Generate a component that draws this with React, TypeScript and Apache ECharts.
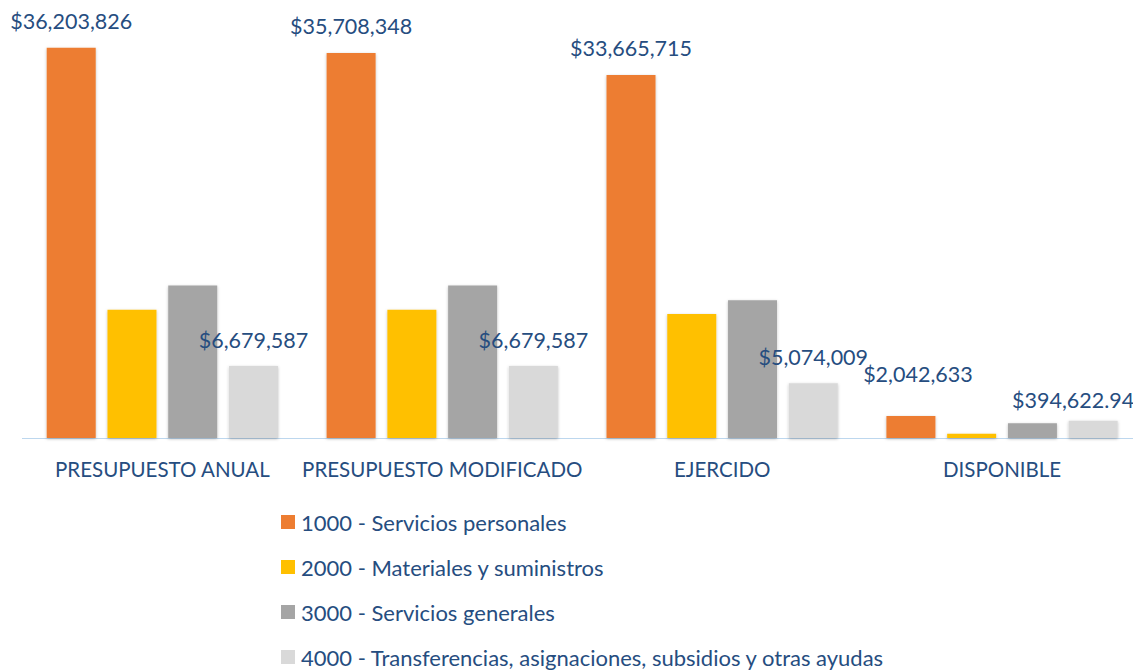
import React, { useEffect, useRef } from "react";
import * as echarts from "echarts";

const categories = ["PRESUPUESTO ANUAL", "PRESUPUESTO MODIFICADO", "EJERCIDO", "DISPONIBLE"];
const seriesNames = [
  "1000 - Servicios personales",
  "2000 - Materiales y suministros",
  "3000 - Servicios generales",
  "4000 - Transferencias, asignaciones, subsidios y otras ayudas",
];
const serviciosPersonales = [36203826, 35708348, 33665715, 2042633];
const materiales = [11890000, 11890000, 11495377, 394622.94];
const serviciosGenerales = [14150000, 14150000, 12780000, 1370000];
const transferencias = [6679587, 6679587, 5074009, 1605578];
const transferenciasLabels = ["$6,679,587", "$6,679,587", "$5,074,009", "$394,622.94"];
const colors = ["#ED7D31", "#FFC000", "#A5A5A5", "#D9D9D9"];

const TEXT = "#264D7F";
const FONT = "Lato";

const fmt = (v: number) => "$" + Math.round(v).toLocaleString("en-US");

export default function App() {
  const ref = useRef<HTMLDivElement>(null);
  useEffect(() => {
    if (!ref.current) return;
    const chart = echarts.init(ref.current, undefined, { renderer: "svg" });
    const labelStyle = {
      show: true,
      position: "top",
      distance: 16,
      color: TEXT,
      fontFamily: FONT,
      fontSize: 21.5,
    };
    const barBase = {
      type: "bar",
      barWidth: 49,
      barGap: "24%",
      itemStyle: { shadowBlur: 3, shadowColor: "rgba(0,0,0,0.25)", shadowOffsetY: 1 },
    };
    const lastIdx = categories.length - 1;
    chart.setOption({
      animation: false,
      color: colors,
      grid: { left: 22.4, right: 0, top: 6.8, bottom: 233 },
      xAxis: {
        type: "category",
        data: categories,
        axisLine: { lineStyle: { color: "#BDD7EE", width: 1 } },
        axisTick: { show: false },
        axisLabel: { color: TEXT, fontFamily: FONT, fontSize: 20.5, margin: 20, interval: 0 },
      },
      yAxis: { type: "value", min: 0, max: 40000000, show: false, splitLine: { show: false } },
      legend: {
        orient: "vertical",
        left: 281,
        top: 511,
        height: 170,
        padding: 0,
        itemWidth: 14,
        itemHeight: 14,
        itemGap: 23,
        icon: "rect",
        textStyle: { color: TEXT, fontFamily: FONT, fontSize: 22, lineHeight: 22, padding: [0, 0, 0, 1] },
        data: seriesNames,
      },
      series: [
        {
          ...barBase,
          name: seriesNames[0],
          data: serviciosPersonales.map((v, i) =>
            i === lastIdx ? { value: v, label: { offset: [7, -15] } } : v
          ),
          label: { ...labelStyle, formatter: (p: any) => fmt(p.value) },
        },
        { ...barBase, name: seriesNames[1], data: materiales },
        { ...barBase, name: seriesNames[2], data: serviciosGenerales },
        {
          ...barBase,
          name: seriesNames[3],
          data: transferencias.map((v, i) =>
            i === lastIdx ? { value: v, label: { offset: [-20, 5] } } : v
          ),
          label: { ...labelStyle, distance: 15, formatter: (p: any) => transferenciasLabels[p.dataIndex] },
        },
      ],
    });
    return () => chart.dispose();
  }, []);
  return (
    <div style={{ position: "absolute", left: 0, top: 0, width: 1133, height: 671, overflow: "hidden" }}>
      <div ref={ref} style={{ width: 1142, height: 671 }} />
    </div>
  );
}
